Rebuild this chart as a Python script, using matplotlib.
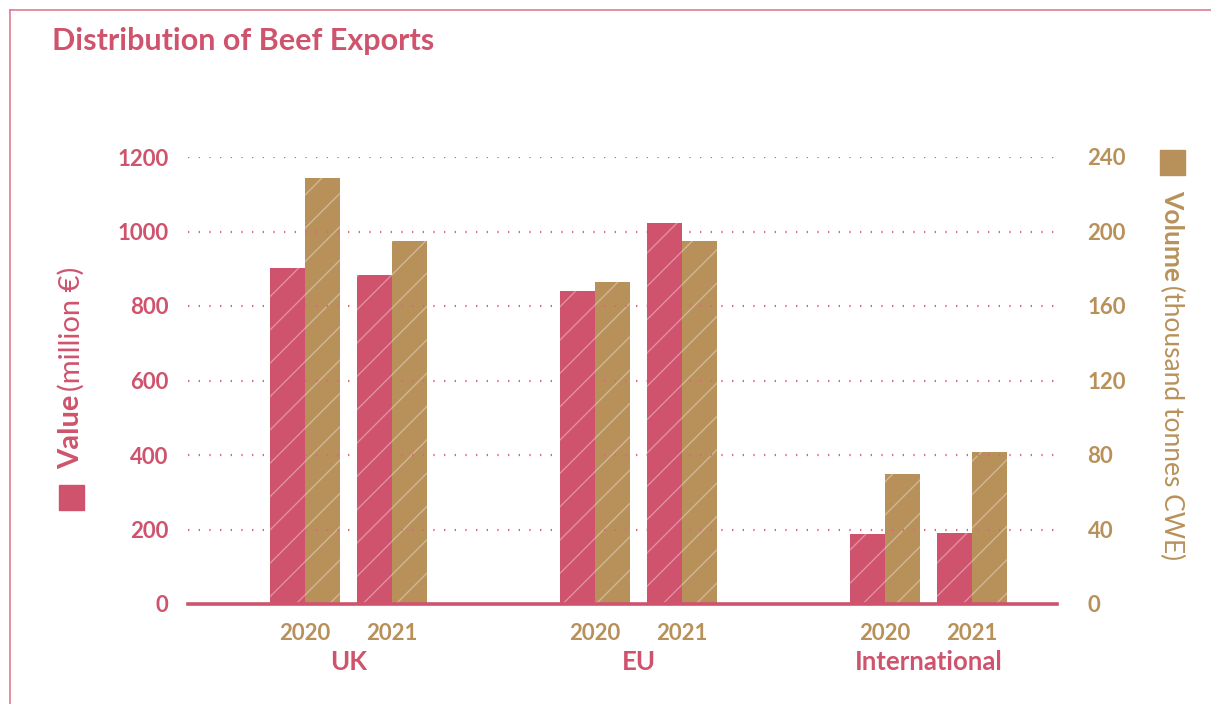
import numpy as np
import matplotlib.pyplot as plt
from matplotlib.lines import Line2D
from matplotlib.patches import Rectangle

plt.rcParams['font.family'] = ['Lato', 'DejaVu Sans']
plt.rcParams['hatch.linewidth'] = 1.0

# data
regions = ["UK", "EU", "International"]
years = ["2020", "2021"]
value_meur = [902, 883, 840, 1023, 188, 191]      # million EUR
volume_kt = [228.7, 195, 173, 195, 69.8, 81.6]     # thousand tonnes CWE

PINK = "#CF536D"
TAN = "#B8915A"
GRID = "#D9667F"

W, H = 1211, 704
fig = plt.figure(figsize=(W / 100, H / 100), dpi=100)

# frame line (top + left, running off the page)
fig.add_artist(Line2D([10 / W, 10 / W], [1 - 10 / H, 0], color="#DE7D92", lw=1.2))
fig.add_artist(Line2D([10 / W, 1], [1 - 10 / H, 1 - 10 / H], color="#DE7D92", lw=1.2))

ax = fig.add_axes([188 / W, 1 - 604 / H, (1057 - 188) / W, (604 - 157) / H])
ax2 = ax.twinx()

# x positions: group spacing 1, year spacing 0.3
pos = []
for g in range(len(regions)):
    for k in range(len(years)):
        pos.append(g + 0.3 * k)
pos = np.array(pos)
bw = 0.12

ax.bar(pos - bw / 2, value_meur, width=bw, color=PINK, edgecolor=(1, 1, 1, 0.35),
       linewidth=0, hatch="/", zorder=3)
ax2.bar(pos + bw / 2, volume_kt, width=bw, color=TAN, edgecolor=(1, 1, 1, 0.35),
        linewidth=0, hatch="/", zorder=3)

ax.set_ylim(0, 1200)
ax2.set_ylim(0, 240)
ax.set_xlim(-0.403, 2.593)
ax.set_yticks(np.arange(0, 1201, 200))
ax2.set_yticks(np.arange(0, 241, 40))

for s in ["top", "right", "left", "bottom"]:
    ax.spines[s].set_visible(False)
    ax2.spines[s].set_visible(False)

# dotted grid
for yv in np.arange(200, 1201, 200):
    ax.axhline(yv, color=GRID, lw=1.6, linestyle=(0, (0.6, 4.2)), zorder=1)
ax.axhline(0, color=PINK, lw=2.6, zorder=5, clip_on=False)

ax.tick_params(axis="y", length=0, pad=14, labelsize=16, labelcolor=PINK)
ax2.tick_params(axis="y", length=0, pad=22, labelsize=16, labelcolor=TAN)
for t in ax.get_yticklabels():
    t.set_fontweight("bold")
for t in ax2.get_yticklabels():
    t.set_fontweight("bold")

ax.set_xticks(pos)
ax.set_xticklabels(years * len(regions), fontsize=16, fontweight="bold", color=TAN)
ax.tick_params(axis="x", length=0, pad=14)

for g, name in enumerate(regions):
    ax.annotate(name, xy=(g + 0.15, 0), xycoords=("data", "axes fraction"),
                xytext=(0, -58), textcoords="offset pixels", ha="center", va="center",
                fontsize=18.5, fontweight="bold", color=PINK)

ax.set_zorder(ax2.get_zorder() + 1)
ax.patch.set_visible(False)

# title
fig.text(52 / W, 1 - 41 / H, "Distribution of Beef Exports", fontsize=22,
         fontweight="bold", color=PINK, va="center", ha="left")

renderer = fig.canvas.get_renderer()

# left axis label with square
fig.add_artist(Rectangle((59 / W, 1 - 510 / H), 25 / W, 25 / H, color=PINK,
                         transform=fig.transFigure))
t1 = fig.text(71 / W, 1 - 469 / H, "Value", rotation=90, fontsize=21, fontweight="bold",
              color=PINK, ha="center", va="bottom")
bb = t1.get_window_extent(renderer)
fig.text(71 / W, (bb.y1 + 4) / H, "(million €)", rotation=90, fontsize=21,
         color=PINK, ha="center", va="bottom")

# right axis label with square
fig.add_artist(Rectangle((1160 / W, 1 - 175 / H), 25 / W, 25 / H, color=TAN,
                         transform=fig.transFigure))
t2 = fig.text(1172 / W, 1 - 190 / H, "Volume", rotation=-90, fontsize=19, fontweight="bold",
              color=TAN, ha="center", va="top")
bb = t2.get_window_extent(renderer)
fig.text(1172 / W, (bb.y0 - 4) / H, "(thousand tonnes CWE)", rotation=-90, fontsize=19,
         color=TAN, ha="center", va="top")

fig.savefig("out.png", dpi=100)
